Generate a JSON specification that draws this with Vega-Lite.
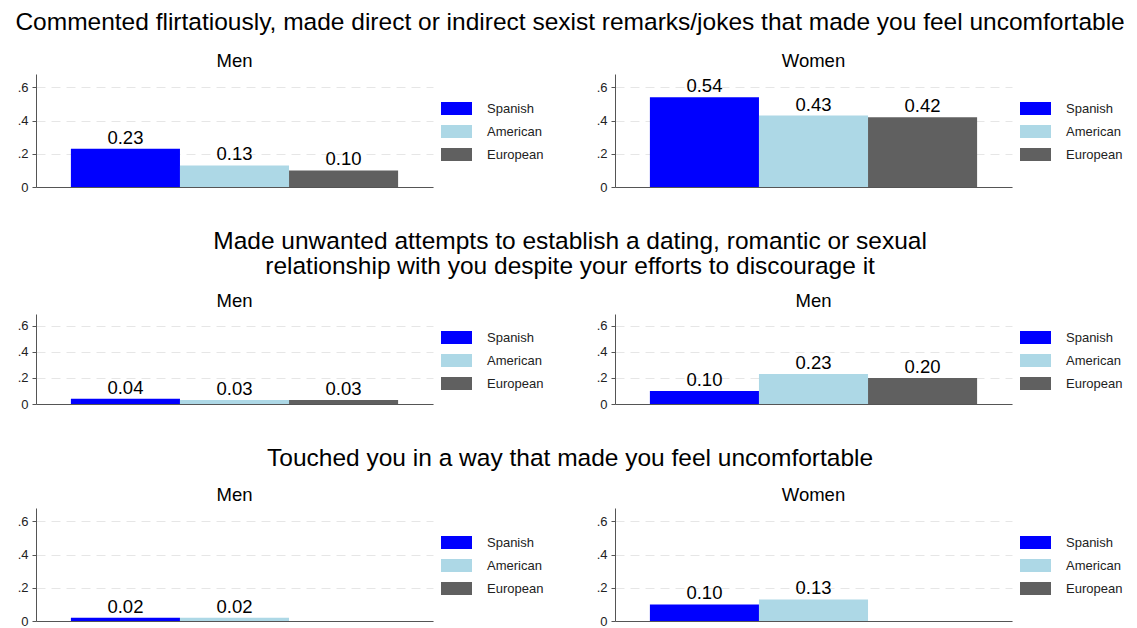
{
  "$schema": "https://vega.github.io/schema/vega-lite/v6.json",
  "background": "white",
  "padding": {"top": 10, "left": 15, "right": 5, "bottom": 3},
  "data": {"values": [
    {"row": 1, "panel": "L", "group": "Spanish", "value": 0.23},
    {"row": 1, "panel": "L", "group": "American", "value": 0.13},
    {"row": 1, "panel": "L", "group": "European", "value": 0.10},
    {"row": 1, "panel": "R", "group": "Spanish", "value": 0.54},
    {"row": 1, "panel": "R", "group": "American", "value": 0.43},
    {"row": 1, "panel": "R", "group": "European", "value": 0.42},
    {"row": 2, "panel": "L", "group": "Spanish", "value": 0.04},
    {"row": 2, "panel": "L", "group": "American", "value": 0.03},
    {"row": 2, "panel": "L", "group": "European", "value": 0.03},
    {"row": 2, "panel": "R", "group": "Spanish", "value": 0.10},
    {"row": 2, "panel": "R", "group": "American", "value": 0.23},
    {"row": 2, "panel": "R", "group": "European", "value": 0.20},
    {"row": 3, "panel": "L", "group": "Spanish", "value": 0.02},
    {"row": 3, "panel": "L", "group": "American", "value": 0.02},
    {"row": 3, "panel": "R", "group": "Spanish", "value": 0.10},
    {"row": 3, "panel": "R", "group": "American", "value": 0.13}
  ]},
  "config": {
    "font": "Liberation Sans",
    "view": {"stroke": null},
    "title": {"font": "Liberation Sans", "fontWeight": "normal", "color": "#000000"},
    "concat": {"spacing": 52},
    "axisY": {
      "values": [0, 0.2, 0.4, 0.6],
      "labelExpr": "datum.value == 0 ? '0' : replace(format(datum.value, '.1f'), '0.', '.')",
      "grid": true, "gridDash": [9, 6], "gridColor": "#e6e6e6", "gridWidth": 1,
      "domainColor": "#555555", "tickColor": "#555555", "tickSize": 4,
      "labelFontSize": 13, "labelColor": "#222222", "labelPadding": 4, "title": null
    },
    "axisX": {
      "labels": false, "ticks": false, "grid": false, "domainColor": "#555555", "title": null
    },
    "legend": {
      "orient": "none", "title": null, "padding": 0,
      "symbolType": "M-1,-0.42H1V0.42H-1Z", "symbolSize": 961, "symbolStrokeWidth": 0, "symbolOpacity": 1,
      "labelFontSize": 13, "labelColor": "#222222", "labelOffset": 15, "rowPadding": -4
    }
  },
  "resolve": {"legend": {"color": "independent"}},
  "spacing": 35,
  "vconcat": [
    {
      "title": {"text": "Commented flirtatiously, made direct or indirect sexist remarks/jokes that made you feel uncomfortable", "fontSize": 24.5, "anchor": "middle", "offset": 16},
      "resolve": {"legend": {"color": "independent"}},
      "hconcat": [
        {
          "title": {"text": "Men", "fontSize": 18.5, "offset": 4},
          "width": 397, "height": 113,
          "transform": [{"filter": "datum.row == 1 && datum.panel == 'L'"}],
          "encoding": {
            "x": {"field": "group", "type": "nominal", "sort": ["Spanish", "American", "European"], "scale": {"domain": ["Spanish", "American", "European"], "paddingInner": 0, "paddingOuter": 0.32}},
            "y": {"field": "value", "type": "quantitative", "scale": {"domain": [0, 0.68], "nice": false}}
          },
          "layer": [
            {"mark": {"type": "bar"}, "encoding": {"color": {"field": "group", "type": "nominal", "scale": {"domain": ["Spanish", "American", "European"], "range": ["#0000ff", "#add8e6", "#606060"]}, "legend": {"legendX": 405, "legendY": 19}}}},
            {"mark": {"type": "text", "baseline": "bottom", "dy": -1, "fontSize": 18.5, "color": "#000000"}, "encoding": {"text": {"field": "value", "type": "quantitative", "format": ".2f"}}}
          ]
        },
        {
          "title": {"text": "Women", "fontSize": 18.5, "offset": 4},
          "width": 397, "height": 113,
          "transform": [{"filter": "datum.row == 1 && datum.panel == 'R'"}],
          "encoding": {
            "x": {"field": "group", "type": "nominal", "sort": ["Spanish", "American", "European"], "scale": {"domain": ["Spanish", "American", "European"], "paddingInner": 0, "paddingOuter": 0.32}},
            "y": {"field": "value", "type": "quantitative", "scale": {"domain": [0, 0.68], "nice": false}}
          },
          "layer": [
            {"mark": {"type": "bar"}, "encoding": {"color": {"field": "group", "type": "nominal", "scale": {"domain": ["Spanish", "American", "European"], "range": ["#0000ff", "#add8e6", "#606060"]}, "legend": {"legendX": 405, "legendY": 19}}}},
            {"mark": {"type": "text", "baseline": "bottom", "dy": -1, "fontSize": 18.5, "color": "#000000"}, "encoding": {"text": {"field": "value", "type": "quantitative", "format": ".2f"}}}
          ]
        }
      ]
    },
    {
      "title": {"text": ["Made unwanted attempts to establish a dating, romantic or sexual", "relationship with you despite your efforts to discourage it"], "fontSize": 24.5, "lineHeight": 24.5, "anchor": "middle", "offset": 12.5},
      "resolve": {"legend": {"color": "independent"}},
      "hconcat": [
        {
          "title": {"text": "Men", "fontSize": 18.5, "offset": 4},
          "width": 397, "height": 90,
          "transform": [{"filter": "datum.row == 2 && datum.panel == 'L'"}],
          "encoding": {
            "x": {"field": "group", "type": "nominal", "sort": ["Spanish", "American", "European"], "scale": {"domain": ["Spanish", "American", "European"], "paddingInner": 0, "paddingOuter": 0.32}},
            "y": {"field": "value", "type": "quantitative", "scale": {"domain": [0, 0.69], "nice": false}}
          },
          "layer": [
            {"mark": {"type": "bar"}, "encoding": {"color": {"field": "group", "type": "nominal", "scale": {"domain": ["Spanish", "American", "European"], "range": ["#0000ff", "#add8e6", "#606060"]}, "legend": {"legendX": 405, "legendY": 8}}}},
            {"mark": {"type": "text", "baseline": "bottom", "dy": -1, "fontSize": 18.5, "color": "#000000"}, "encoding": {"text": {"field": "value", "type": "quantitative", "format": ".2f"}}}
          ]
        },
        {
          "title": {"text": "Men", "fontSize": 18.5, "offset": 4},
          "width": 397, "height": 90,
          "transform": [{"filter": "datum.row == 2 && datum.panel == 'R'"}],
          "encoding": {
            "x": {"field": "group", "type": "nominal", "sort": ["Spanish", "American", "European"], "scale": {"domain": ["Spanish", "American", "European"], "paddingInner": 0, "paddingOuter": 0.32}},
            "y": {"field": "value", "type": "quantitative", "scale": {"domain": [0, 0.69], "nice": false}}
          },
          "layer": [
            {"mark": {"type": "bar"}, "encoding": {"color": {"field": "group", "type": "nominal", "scale": {"domain": ["Spanish", "American", "European"], "range": ["#0000ff", "#add8e6", "#606060"]}, "legend": {"legendX": 405, "legendY": 8}}}},
            {"mark": {"type": "text", "baseline": "bottom", "dy": -1, "fontSize": 18.5, "color": "#000000"}, "encoding": {"text": {"field": "value", "type": "quantitative", "format": ".2f"}}}
          ]
        }
      ]
    },
    {
      "title": {"text": "Touched you in a way that made you feel uncomfortable", "fontSize": 24.5, "anchor": "middle", "offset": 14},
      "resolve": {"legend": {"color": "independent"}},
      "hconcat": [
        {
          "title": {"text": "Men", "fontSize": 18.5, "offset": 4},
          "width": 397, "height": 113,
          "transform": [{"filter": "datum.row == 3 && datum.panel == 'L'"}],
          "encoding": {
            "x": {"field": "group", "type": "nominal", "sort": ["Spanish", "American", "European"], "scale": {"domain": ["Spanish", "American", "European"], "paddingInner": 0, "paddingOuter": 0.32}},
            "y": {"field": "value", "type": "quantitative", "scale": {"domain": [0, 0.68], "nice": false}}
          },
          "layer": [
            {"mark": {"type": "bar"}, "encoding": {"color": {"field": "group", "type": "nominal", "scale": {"domain": ["Spanish", "American", "European"], "range": ["#0000ff", "#add8e6", "#606060"]}, "legend": {"legendX": 405, "legendY": 19}}}},
            {"mark": {"type": "text", "baseline": "bottom", "dy": -1, "fontSize": 18.5, "color": "#000000"}, "encoding": {"text": {"field": "value", "type": "quantitative", "format": ".2f"}}}
          ]
        },
        {
          "title": {"text": "Women", "fontSize": 18.5, "offset": 4},
          "width": 397, "height": 113,
          "transform": [{"filter": "datum.row == 3 && datum.panel == 'R'"}],
          "encoding": {
            "x": {"field": "group", "type": "nominal", "sort": ["Spanish", "American", "European"], "scale": {"domain": ["Spanish", "American", "European"], "paddingInner": 0, "paddingOuter": 0.32}},
            "y": {"field": "value", "type": "quantitative", "scale": {"domain": [0, 0.68], "nice": false}}
          },
          "layer": [
            {"mark": {"type": "bar"}, "encoding": {"color": {"field": "group", "type": "nominal", "scale": {"domain": ["Spanish", "American", "European"], "range": ["#0000ff", "#add8e6", "#606060"]}, "legend": {"legendX": 405, "legendY": 19}}}},
            {"mark": {"type": "text", "baseline": "bottom", "dy": -1, "fontSize": 18.5, "color": "#000000"}, "encoding": {"text": {"field": "value", "type": "quantitative", "format": ".2f"}}}
          ]
        }
      ]
    }
  ]
}
